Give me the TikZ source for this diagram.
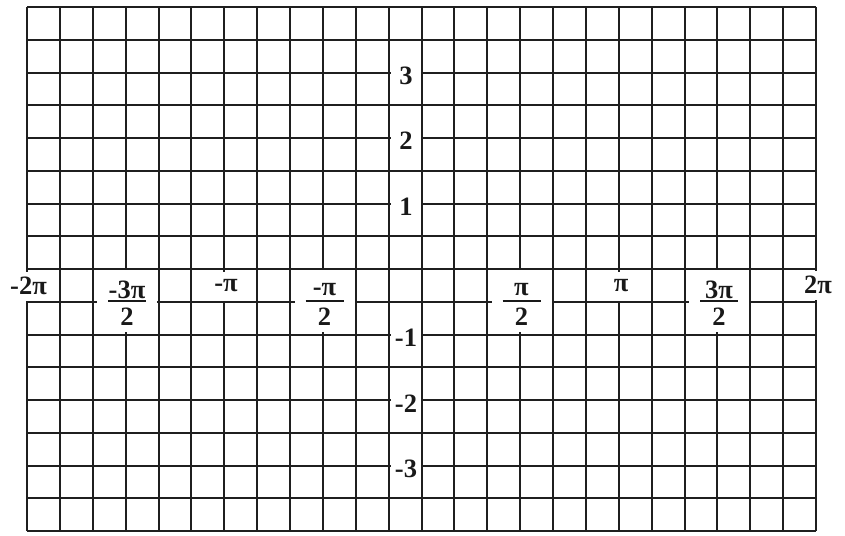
\documentclass[tikz,border=0pt]{standalone}
\usepackage{fontspec}
\setmainfont{Liberation Serif}
\begin{document}
\begin{tikzpicture}[x=1pt,y=-1pt,
  gridline/.style={line width=1.8pt,draw=black!88},
  mask/.style={fill=white,inner sep=0pt,outer sep=0pt},
  lbl/.style={font=\fontsize{26.5}{28}\selectfont\bfseries,inner sep=0pt,text=black!90},
  ylbl/.style={mask,lbl,minimum width=30pt,minimum height=26pt},
  xlbl/.style={mask,lbl,minimum width=44pt,minimum height=29pt},
  fbox/.style={mask,minimum width=60pt,minimum height=62pt},
  fbar/.style={line width=1.8pt,draw=black!90}]
\useasboundingbox (0,0) rectangle (845,535);
% grid
\foreach \i in {0,...,24} {
  \pgfmathtruncatemacro{\gx}{27+\i*32.875+0.5}
  \draw[gridline] (\gx,7) -- (\gx,531);
}
\foreach \j in {0,...,16} {
  \pgfmathtruncatemacro{\gy}{7+\j*32.75+0.5}
  \draw[gridline] (27,\gy) -- (816,\gy);
}
% y labels
\node[ylbl] (y3) at (406,76) {3};
\node[ylbl] (y2) at (406,141) {2};
\node[ylbl] (y1) at (406,206.5) {1};
\node[ylbl] (ym1) at (406,338) {-1};
\node[ylbl] (ym2) at (406,403.5) {-2};
\node[ylbl] (ym3) at (406,469) {-3};
% x labels (single)
\node[xlbl] (xm2pi) at (28.5,286) {-2π};
\node[xlbl,minimum width=40pt] (xmpi) at (226,286) {-π};
\node[xlbl,minimum width=40pt] (xpi) at (621,286) {π};
\node[xlbl] (x2pi) at (818,285) {2π};
% fractions
\foreach \nm/\cx/\num in {fA/127/-3π, fB/324.5/-π, fC/521.5/π, fD/719/3π}{
  \node[fbox] (\nm) at (\cx,301) {};
  \node[lbl] (\nm n) at (\cx,290) {\num};
  \node[lbl] (\nm d) at (\cx,316.5) {2};
  \draw[fbar] ([xshift=-19pt]\nm.center) -- ([xshift=19pt]\nm.center);
}
\end{tikzpicture}
\end{document}
